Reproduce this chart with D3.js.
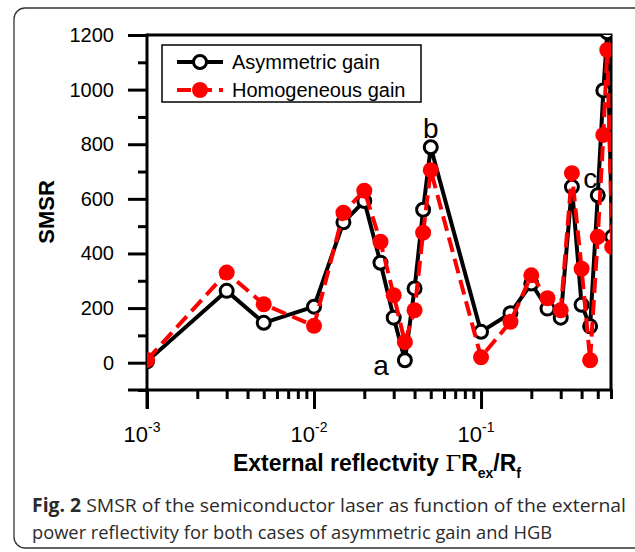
<!DOCTYPE html>
<html>
<head>
<meta charset="utf-8">
<script src="https://cdn.jsdelivr.net/npm/d3@7"></script>
<style>
  body { margin: 0; background: #fff; }
  svg { display: block; }
</style>
</head>
<body>
<svg width="635" height="552"></svg>
<script>
// reflectivity values (x) shared by both curves
let reflectivity = [0.001, 0.003, 0.005, 0.01, 0.015, 0.02, 0.025, 0.03, 0.035, 0.04, 0.045, 0.05,
                    0.1, 0.15, 0.2, 0.25, 0.3, 0.35, 0.4, 0.45, 0.5, 0.54, 0.57, 0.61];
let asymmetric = [5, 263, 146, 205, 514, 592, 366, 165, 9, 272, 560, 789,
                  113, 181, 290, 198, 165, 644, 212, 133, 613, 997, 1210, 461];
let homogeneous = [10, 330, 214, 135, 549, 630, 443, 247, 75, 192, 476, 705,
                   20, 150, 320, 236, 192, 694, 344, 9, 461, 834, 1145, 424];
let seriesNames = ['Asymmetric gain', 'Homogeneous gain'];
let yTicks = [0, 200, 400, 600, 800, 1000, 1200];
let yMinor = [-100, 100, 300, 500, 700, 900, 1100];
let xTicks = [0.001, 0.01, 0.1];
let xMinor = [0.002, 0.003, 0.004, 0.005, 0.006, 0.007, 0.008, 0.009,
              0.02, 0.03, 0.04, 0.05, 0.06, 0.07, 0.08, 0.09,
              0.2, 0.3, 0.4, 0.5, 0.6];
let notes = [{t: 'a', x: 0.0252, y: -44}, {t: 'b', x: 0.05, y: 823}, {t: 'c', x: 0.45, y: 640}];

let pLeft = 147, pRight = 611, pTop = 35, pBottom = 390;
let font = 'Liberation Sans, Arial, sans-serif';

let xScale = d3.scaleLog()
               .domain([0.001, 0.6])
               .range([pLeft, pRight]);

let yScale = d3.scaleLinear()
               .domain([-100, 1200])
               .range([pBottom, pTop]);

let svg = d3.select('svg');

// outer figure border (rounded)
svg.append('rect')
    .attr('x', 14).attr('y', 8)
    .attr('width', 660).attr('height', 540)
    .attr('rx', 11)
    .attr('fill', 'none')
    .attr('stroke', '#333')
    .attr('stroke-width', 1.3);

// frame top/right
svg.append('path')
    .attr('d', `M${pLeft},${pTop}H${pRight}V${pBottom}`)
    .attr('fill', 'none')
    .attr('stroke', '#000')
    .attr('stroke-width', 3);

// y axis
let yAxis = svg.append('g')
    .attr('transform', `translate(${pLeft},0)`)
    .call(d3.axisLeft(yScale).tickValues(yTicks).tickSize(19).tickPadding(14).tickFormat(d3.format('d')));
yAxis.append('g')
    .call(d3.axisLeft(yScale).tickValues(yMinor).tickSize(9).tickFormat(''));
yAxis.selectAll('path').remove();
yAxis.selectAll('line').attr('stroke', '#000').attr('stroke-width', 3);
yAxis.selectAll('text').attr('font-family', font).attr('font-size', 20).attr('fill', '#000');
yAxis.append('line')
    .attr('y1', pTop - 1.5).attr('y2', pBottom + 19)
    .attr('stroke', '#000').attr('stroke-width', 3);

// x axis
let xAxis = svg.append('g')
    .attr('transform', `translate(0,${pBottom})`)
    .call(d3.axisBottom(xScale).tickValues(xTicks).tickSize(19).tickFormat(''));
xAxis.append('g')
    .call(d3.axisBottom(xScale).tickValues(xMinor).tickSize(9).tickFormat(''));
xAxis.selectAll('path').remove();
xAxis.selectAll('line').attr('stroke', '#000').attr('stroke-width', 3);
xAxis.append('line')
    .attr('x1', pLeft - 19).attr('x2', pRight + 1.5)
    .attr('stroke', '#000').attr('stroke-width', 3);

let xLab = svg.append('g').selectAll('text')
  .data(xTicks)
  .enter()
  .append('text')
    .attr('x', d => xScale(d) - 5)
    .attr('y', pBottom + 52)
    .attr('text-anchor', 'middle')
    .attr('font-family', font)
    .attr('font-size', 22);
xLab.append('tspan').text('10');
xLab.append('tspan')
    .attr('dy', -10)
    .attr('font-size', 14)
    .text(d => Math.round(Math.log10(d)));

// axis titles
svg.append('text')
    .attr('transform', 'translate(54,212) rotate(-90)')
    .attr('text-anchor', 'middle')
    .attr('font-family', font)
    .attr('font-weight', 'bold')
    .attr('font-size', 22)
    .text('SMSR');

let xt = svg.append('text')
    .attr('x', 377).attr('y', 471)
    .attr('text-anchor', 'middle')
    .attr('font-family', font)
    .attr('font-weight', 'bold')
    .attr('font-size', 23);
xt.append('tspan').text('External reflectvity ');
xt.append('tspan').attr('font-weight', 'normal').attr('font-family', 'DejaVu Serif, serif').text('Γ');
xt.append('tspan').text('R');
xt.append('tspan').attr('font-size', 14).attr('dy', 7).text('ex');
xt.append('tspan').attr('dy', -7).text('/R');
xt.append('tspan').attr('font-size', 14).attr('dy', 7).text('f');

// point labels
svg.append('g').selectAll('text')
  .data(notes)
  .enter()
  .append('text')
    .attr('x', d => xScale(d.x))
    .attr('y', d => yScale(d.y))
    .attr('text-anchor', 'middle')
    .attr('font-family', font)
    .attr('font-size', 28)
    .text(d => d.t);

// clip to plot area
svg.append('clipPath').attr('id', 'plot')
  .append('rect')
    .attr('x', pLeft).attr('y', pTop)
    .attr('width', pRight - pLeft).attr('height', pBottom - pTop);

let plot = svg.append('g').attr('clip-path', 'url(#plot)');

let line = d3.line()
             .x((d, i) => xScale(reflectivity[i]))
             .y(d => yScale(d));

plot.append('path')
    .datum(asymmetric)
    .attr('d', line)
    .attr('fill', 'none')
    .attr('stroke', '#000')
    .attr('stroke-width', 4)
    .attr('stroke-linejoin', 'round');

plot.selectAll('circle.asym')
  .data(asymmetric)
  .enter()
  .append('circle')
    .attr('class', 'asym')
    .attr('cx', (d, i) => xScale(reflectivity[i]))
    .attr('cy', d => yScale(d))
    .attr('r', 6.5)
    .attr('fill', '#fff')
    .attr('stroke', '#000')
    .attr('stroke-width', 3);

plot.append('path')
    .datum(homogeneous)
    .attr('d', line)
    .attr('fill', 'none')
    .attr('stroke', '#ff0000')
    .attr('stroke-width', 4)
    .attr('stroke-dasharray', '15,7');

plot.selectAll('circle.homo')
  .data(homogeneous)
  .enter()
  .append('circle')
    .attr('class', 'homo')
    .attr('cx', (d, i) => xScale(reflectivity[i]))
    .attr('cy', d => yScale(d))
    .attr('r', 8)
    .attr('fill', '#ff0000');

// legend
let legend = svg.append('g');
legend.append('rect')
    .attr('x', 162).attr('y', 45)
    .attr('width', 259).attr('height', 57)
    .attr('fill', '#fff')
    .attr('stroke', '#000')
    .attr('stroke-width', 1.5);

let rows = legend.selectAll('g.row')
  .data(seriesNames)
  .enter()
  .append('g')
    .attr('class', 'row')
    .attr('transform', (d, i) => `translate(0,${62 + i * 28})`);

rows.append('line')
    .attr('x1', 177).attr('x2', 223)
    .attr('stroke', (d, i) => i ? '#ff0000' : '#000')
    .attr('stroke-width', 4)
    .attr('stroke-dasharray', (d, i) => i ? '14,7' : null);
rows.append('circle')
    .attr('cx', 200)
    .attr('r', (d, i) => i ? 8 : 6.5)
    .attr('fill', (d, i) => i ? '#ff0000' : '#fff')
    .attr('stroke', (d, i) => i ? 'none' : '#000')
    .attr('stroke-width', 3);
rows.append('text')
    .attr('x', 232)
    .attr('y', 7)
    .attr('font-family', font)
    .attr('font-size', 20)
    .text(d => d);

// caption
let cap = svg.append('g')
    .attr('font-family', 'Open Sans, sans-serif')
    .attr('font-size', 19)
    .attr('fill', '#2b2b2b');
let c1 = cap.append('text').attr('x', 32).attr('y', 512)
    .attr('textLength', 594).attr('lengthAdjust', 'spacingAndGlyphs');
c1.append('tspan').attr('font-weight', 'bold').text('Fig. 2');
c1.append('tspan').text(' SMSR of the semiconductor laser as function of the external');
cap.append('text').attr('x', 32).attr('y', 539)
    .attr('textLength', 520).attr('lengthAdjust', 'spacingAndGlyphs')
    .text('power reflectivity for both cases of asymmetric gain and HGB');
</script>
</body>
</html>
